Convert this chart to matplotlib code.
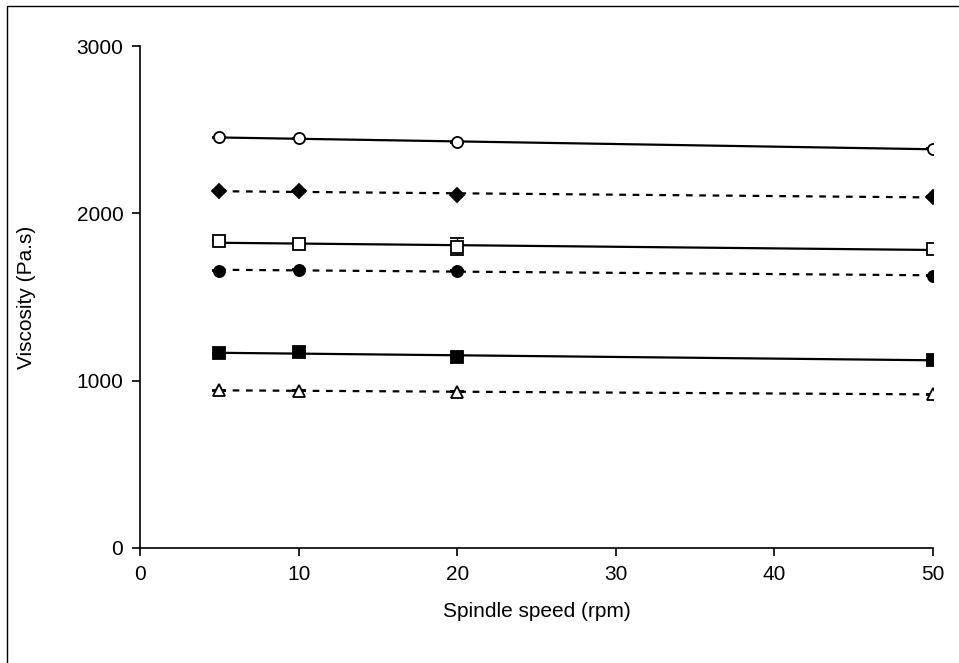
import numpy as np
import matplotlib.pyplot as plt
from matplotlib.lines import Line2D

plt.rcParams['font.family'] = ['Liberation Sans', 'DejaVu Sans']

speed = [5, 10, 20, 50]

# viscosity (Pa.s) per sample
visc_circle_open = [2456, 2448, 2424, 2385]
visc_diamond = [2134, 2134, 2110, 2098]
visc_square_open = [1835, 1815, 1800, 1785]
visc_circle_fill = [1656, 1664, 1656, 1628]
visc_square_fill = [1164, 1172, 1142, 1124]
visc_triangle = [942, 940, 934, 918]

err_circle_open = [3, 3, 3, 3]
err_diamond = [3, 3, 3, 3]
err_square_open = [3, 3, 50, 3]
err_circle_fill = [3, 3, 3, 3]
err_square_fill = [3, 3, 3, 3]
err_triangle = [3, 3, 3, 3]

series = [
    (visc_circle_open, err_circle_open, 'o', 'white', '-'),
    (visc_diamond, err_diamond, 'D', 'black', (0, (3, 3))),
    (visc_square_open, err_square_open, 's', 'white', '-'),
    (visc_circle_fill, err_circle_fill, 'o', 'black', (0, (3, 3))),
    (visc_square_fill, err_square_fill, 's', 'black', '-'),
    (visc_triangle, err_triangle, '^', 'white', (0, (3, 3))),
]

fig = plt.figure(figsize=(9.59, 6.63), dpi=100)
ax = fig.add_axes([0.146, 0.1735, 0.827, 0.757])

xs = np.array(speed, dtype=float)
for vals, err, mk, face, ls in series:
    # linear trendline over the data range
    k, b = np.polyfit(xs, vals, 1)
    xt = np.array([xs.min(), xs.max() + 0.6])
    ax.plot(xt, k * xt + b, color='black', lw=1.6, ls=ls, zorder=2)
    ms = 7 if mk == 'D' else 8
    ax.errorbar(xs, vals, yerr=err, fmt=mk, color='black', mfc=face,
                mec='black', ms=ms, mew=1.3, ecolor='black', elinewidth=1,
                capsize=5, capthick=1.2, zorder=3)

ax.set_xlim(0, 50)
ax.set_ylim(0, 3000)
ax.set_xticks([0, 10, 20, 30, 40, 50])
ax.set_yticks([0, 1000, 2000, 3000])
ax.spines['top'].set_visible(False)
ax.spines['right'].set_visible(False)
ax.spines['left'].set_linewidth(1.2)
ax.spines['bottom'].set_linewidth(1.2)
ax.tick_params(direction='out', length=6, width=1.2, labelsize=15, pad=6)
ax.set_xlabel('Spindle speed (rpm)', fontsize=15, va='center')
ax.set_ylabel('Viscosity (Pa.s)', fontsize=15, va='center')
ax.xaxis.set_label_coords(0.5, -0.1275)
ax.yaxis.set_label_coords(-0.1425, 0.5)

# outer chart border (left and top edges visible)
fig.add_artist(Line2D([7 / 959, 7 / 959, 1], [0, 1 - 6 / 663, 1 - 6 / 663],
                      transform=fig.transFigure, color='black', lw=1))

fig.savefig('out.png', dpi=100)
